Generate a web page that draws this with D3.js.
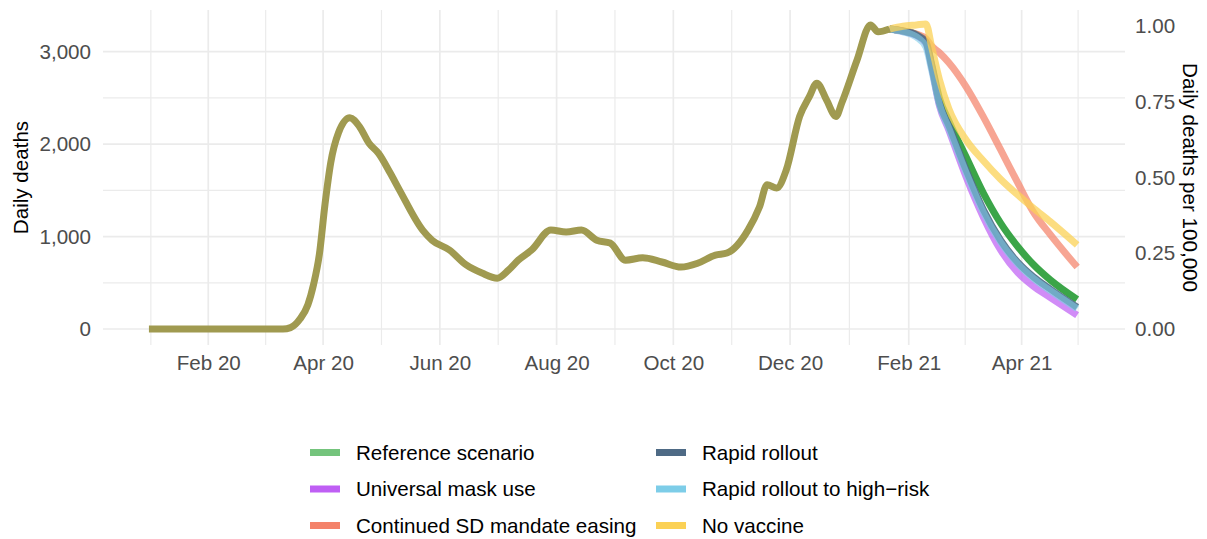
<!DOCTYPE html>
<html><head><meta charset="utf-8">
<script src="https://cdn.jsdelivr.net/npm/d3@7"></script>
<style>
body{margin:0;background:#fff;}
svg text{font-family:"Liberation Sans",Arial,Helvetica,sans-serif;}
</style>
</head><body>
<svg id="chart" width="1207" height="539"></svg>
<script>
// ---------- DATA ----------
const historyDates = ["2020-01-01","2020-03-11","2020-03-15","2020-03-20","2020-03-24","2020-03-27","2020-03-30","2020-04-02","2020-04-05","2020-04-09","2020-04-15","2020-04-20","2020-04-25","2020-04-30","2020-05-06","2020-05-11","2020-05-23","2020-05-28","2020-06-06","2020-06-15","2020-06-23","2020-07-01","2020-07-07","2020-07-12","2020-07-19","2020-07-29","2020-08-06","2020-08-14","2020-08-22","2020-08-29","2020-09-06","2020-09-15","2020-09-25","2020-10-05","2020-10-14","2020-10-23","2020-10-29","2020-11-09","2020-11-15","2020-11-19","2020-11-24","2020-11-29","2020-12-06","2020-12-11","2020-12-15","2020-12-20","2020-12-25","2020-12-28","2021-01-05","2021-01-12","2021-01-16","2021-01-22"];
const historyDeaths = [0,0,15,110,260,480,800,1350,1800,2120,2285,2190,2010,1900,1690,1500,1070,960,855,690,605,550,640,745,855,1070,1050,1070,960,930,745,770,725,670,714,800,822,1070,1320,1560,1525,1720,2300,2510,2660,2480,2300,2445,2910,3290,3215,3245];

const projectionDates = ["2021-01-22","2021-01-29","2021-02-05","2021-02-10","2021-02-13","2021-02-17","2021-02-22","2021-03-03","2021-03-12","2021-03-21","2021-03-30","2021-04-07","2021-04-16","2021-04-30"];

const scenarioNames = ["Reference scenario","Universal mask use","Continued SD mandate easing","Rapid rollout","Rapid rollout to high\u2212risk","No vaccine"];
const referenceDeaths   = [3245,3225,3185,3110,2860,2500,2250,1860,1470,1145,890,700,530,320];
const maskDeaths        = [3245,3220,3175,3090,2830,2420,2150,1645,1210,855,610,465,340,150];
const sdEasingDeaths    = [3245,3225,3190,3140,3060,2990,2880,2620,2295,1940,1580,1270,1020,670];
const rapidDeaths       = [3245,3222,3180,3100,2840,2450,2200,1720,1290,960,720,565,430,235];
const highRiskDeaths    = [3245,3215,3160,3050,2800,2430,2170,1690,1260,940,705,550,415,220];
const noVaccineDeaths   = [3245,3275,3290,3300,3050,2700,2380,2045,1820,1620,1450,1310,1160,910];

const xTickDates  = ["2020-02-01","2020-04-01","2020-06-01","2020-08-01","2020-10-01","2020-12-01","2021-02-01","2021-04-01"];
const xTickLabels = ["Feb 20","Apr 20","Jun 20","Aug 20","Oct 20","Dec 20","Feb 21","Apr 21"];
const yTicks      = [0,1000,2000,3000];
const yMinorTicks = [500,1500,2500];
const yRightTicks = [0,0.25,0.5,0.75,1];
const deathsPer100k = 3278; // deaths corresponding to 1 per 100,000

// ---------- STYLE ----------
const lineColors   = ["#2a9d38","#bf5ff4","#f4826a","#4e6a85","#7dcde8","#fbd155"];
const lineOpacity  = [0.92,0.72,0.72,0.9,0.6,0.75];
const legendColors = ["#74c47c","#bf5ff4","#f4826a","#4e6a85","#7dcde8","#fbd155"];
const historyColor = "#a09a50";
const LW = 7;

const parse = d3.timeParse("%Y-%m-%d");
const svg = d3.select("#chart");
const L = 103, R = 1125, T = 10, B = 345;

const x = d3.scaleTime().domain([new Date(2019,11,8), new Date(2021,4,25)]).range([L,R]);
const y = d3.scaleLinear().domain([0,3000]).range([329,51.7]);
const yR = d3.scaleLinear().domain([0,1]).range([y(0), y(deathsPer100k)]);

// minor x grid: midpoints between majors, plus extrapolated ends
const majorX = xTickDates.map(parse);
const minorX = [];
minorX.push(new Date(+majorX[0] - (majorX[1]-majorX[0])/2));
for (let i=0;i<majorX.length-1;i++) minorX.push(new Date((+majorX[i] + +majorX[i+1])/2));
minorX.push(new Date(+majorX[majorX.length-1] + (majorX[majorX.length-1]-majorX[majorX.length-2])/2));

const grid = svg.append("g");
grid.selectAll(".mx").data(minorX).enter().append("line")
  .attr("x1",d=>x(d)).attr("x2",d=>x(d)).attr("y1",T).attr("y2",B)
  .attr("stroke","#ebebeb").attr("stroke-width",1.2);
grid.selectAll(".my").data(yMinorTicks).enter().append("line")
  .attr("x1",L).attr("x2",R).attr("y1",d=>y(d)).attr("y2",d=>y(d))
  .attr("stroke","#ebebeb").attr("stroke-width",1.2);
grid.selectAll(".Mx").data(majorX).enter().append("line")
  .attr("x1",d=>x(d)).attr("x2",d=>x(d)).attr("y1",T).attr("y2",B)
  .attr("stroke","#ebebeb").attr("stroke-width",1.7);
grid.selectAll(".My").data(yTicks).enter().append("line")
  .attr("x1",L).attr("x2",R).attr("y1",d=>y(d)).attr("y2",d=>y(d))
  .attr("stroke","#ebebeb").attr("stroke-width",1.7);

// axes
const fs = "20.6px";
function styleAxis(g){
  g.select(".domain").remove();
  g.selectAll(".tick line").remove();
  g.selectAll("text").attr("fill","#4d4d4d").style("font-size",fs);
}
svg.append("g").attr("transform",`translate(${L},0)`)
  .call(d3.axisLeft(y).tickValues(yTicks).tickFormat(d3.format(",")).tickSize(0).tickPadding(12))
  .call(styleAxis);
svg.append("g").attr("transform",`translate(${R},0)`)
  .call(d3.axisRight(yR).tickValues(yRightTicks).tickFormat(d3.format(".2f")).tickSize(0).tickPadding(10))
  .call(styleAxis);
svg.append("g").attr("transform",`translate(0,${B})`)
  .call(d3.axisBottom(x).tickValues(majorX).tickFormat((d,i)=>xTickLabels[i]).tickSize(0).tickPadding(10))
  .call(styleAxis);

// titles
svg.append("text").attr("transform","translate(27.5,177.5) rotate(-90)")
  .attr("text-anchor","middle").style("font-size",fs).attr("fill","#000").text("Daily deaths");
svg.append("text").attr("transform","translate(1183,177.5) rotate(90)")
  .attr("text-anchor","middle").style("font-size",fs).attr("fill","#000").text("Daily deaths per 100,000");

// lines
const line = d3.line().x(d=>x(d.date)).y(d=>y(d.v)).curve(d3.curveMonotoneX);
const hist = historyDates.map((d,i)=>({date:parse(d), v:historyDeaths[i]}));
const scenarioValues = [referenceDeaths,maskDeaths,sdEasingDeaths,rapidDeaths,highRiskDeaths,noVaccineDeaths];
const lines = svg.append("g");
scenarioValues.forEach((vals,k)=>{
  const pts = projectionDates.map((d,i)=>({date:parse(d), v:vals[i]}));
  lines.append("path").datum(pts).attr("d",line)
    .attr("fill","none").attr("stroke",lineColors[k]).attr("stroke-opacity",lineOpacity[k])
    .attr("stroke-width",LW).attr("stroke-linejoin","round");
});
lines.append("path").datum(hist).attr("d",line)
  .attr("fill","none").attr("stroke",historyColor).attr("stroke-width",LW).attr("stroke-linejoin","round");

// legend
const keyX = [310,656], textX = [356,702], rowY = [452.5,489,525.5];
const leg = svg.append("g");
scenarioNames.forEach((n,i)=>{
  const c = Math.floor(i/3), r = i%3;
  leg.append("line").attr("x1",keyX[c]).attr("x2",keyX[c]+30).attr("y1",rowY[r]).attr("y2",rowY[r])
    .attr("stroke",legendColors[i]).attr("stroke-width",7);
  leg.append("text").attr("x",textX[c]).attr("y",rowY[r]).attr("dy","0.36em")
    .style("font-size",fs).attr("fill","#000").text(n);
});
</script>
</body></html>
